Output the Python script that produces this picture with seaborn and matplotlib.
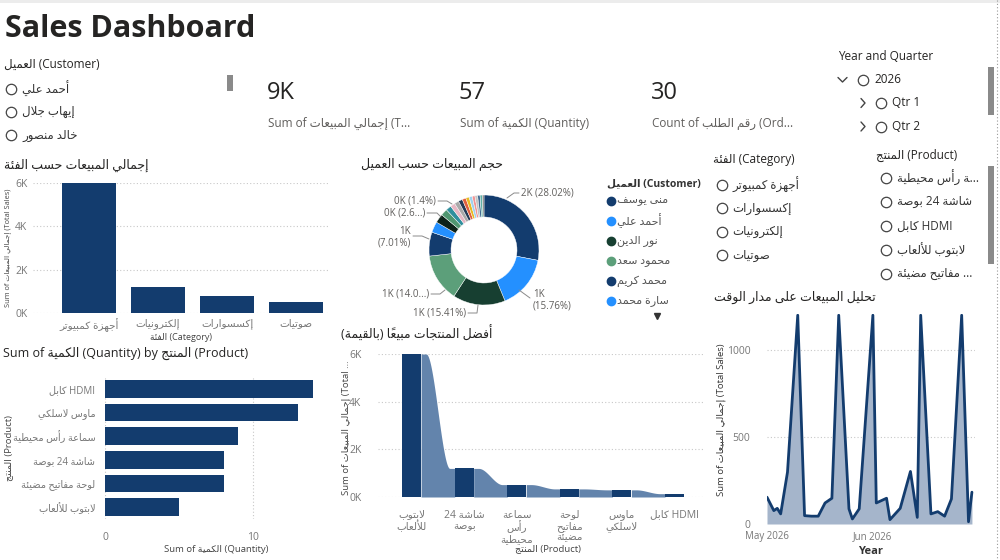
import re

import matplotlib.pyplot as plt
import numpy as np
import pandas as pd
import seaborn as sns
from matplotlib.lines import Line2D
from matplotlib.patches import Rectangle

# ---------------------------------------------------------------
# data
# ---------------------------------------------------------------
customer_slicer = ["أحمد علي", "إيهاب جلال", "خالد منصور"]
category_slicer = ["أجهزة كمبيوتر", "إكسسوارات", "إلكترونيات", "صوتيات"]
product_slicer = ["سماعة رأس محيطية", "شاشة 24 بوصة", "كابل HDMI", "لابتوب للألعاب", "لوحة مفاتيح مضيئة"]

category_names = ["أجهزة كمبيوتر", "إلكترونيات", "إكسسوارات", "صوتيات"]
category_sales = [6000, 1200, 780, 520]

customer_names = ["منى يوسف", "أحمد علي", "نور الدين", "محمود سعد", "محمد كريم", "سارة محمد",
                  "إيهاب جلال", "خالد منصور", "ليلى حسن", "عمر فاروق", "ياسمين عادل", "طارق سمير",
                  "هدى إبراهيم", "سامي نبيل", "رنا خليل", "كريم عادل", "دينا فؤاد", "وليد حسين",
                  "نادية صبري", "يوسف عماد"]
customer_sales = [2395.7, 1347.5, 1317.6, 1200.4, 599.4, 273.6, 222.3, 171.0, 136.8, 119.7,
                  111.2, 102.6, 94.1, 85.5, 77.0, 68.4, 68.4, 59.9, 59.9, 39.0]

qty_products = ["كابل HDMI", "ماوس لاسلكي", "سماعة رأس محيطية", "شاشة 24 بوصة", "لوحة مفاتيح مضيئة", "لابتوب للألعاب"]
qty_values = [14, 13, 9, 8, 8, 5]

top_products = ["لابتوب للألعاب", "شاشة 24 بوصة", "سماعة رأس محيطية", "لوحة مفاتيح مضيئة", "ماوس لاسلكي", "كابل HDMI"]
top_ticks = ["لابتوب\nللألعاب", "شاشة 24\nبوصة", "سماعة\nرأس\nمحيطية", "لوحة\nمفاتيح\nمضيئة", "ماوس\nلاسلكي", "كابل HDMI"]
top_sales = [6000, 1200, 520, 340, 300, 140]

order_dates = ["2026-05-01", "2026-05-03", "2026-05-04", "2026-05-05", "2026-05-07", "2026-05-10",
               "2026-05-12", "2026-05-14", "2026-05-16", "2026-05-18", "2026-05-20", "2026-05-22",
               "2026-05-25", "2026-05-26", "2026-05-28", "2026-06-01", "2026-06-02", "2026-06-05",
               "2026-06-06", "2026-06-09", "2026-06-12", "2026-06-14", "2026-06-15", "2026-06-18",
               "2026-06-20", "2026-06-22", "2026-06-24", "2026-06-27", "2026-06-29", "2026-06-30"]
order_sales = [154, 77, 90, 58, 298, 1200, 48, 45, 45, 121, 148, 1200, 87, 29, 87,
               1200, 121, 148, 25, 90, 302, 38, 1200, 58, 71, 45, 144, 1200, 13, 183]

# ---------------------------------------------------------------
# arabic shaping (matplotlib has no shaping / bidi of its own)
# ---------------------------------------------------------------
_BASE = {
    "ء": (0xFE80, 0), "آ": (0xFE81, 1), "أ": (0xFE83, 1), "ؤ": (0xFE85, 1), "إ": (0xFE87, 1),
    "ئ": (0xFE89, 2), "ا": (0xFE8D, 1), "ب": (0xFE8F, 2), "ة": (0xFE93, 1), "ت": (0xFE95, 2),
    "ث": (0xFE99, 2), "ج": (0xFE9D, 2), "ح": (0xFEA1, 2), "خ": (0xFEA5, 2), "د": (0xFEA9, 1),
    "ذ": (0xFEAB, 1), "ر": (0xFEAD, 1), "ز": (0xFEAF, 1), "س": (0xFEB1, 2), "ش": (0xFEB5, 2),
    "ص": (0xFEB9, 2), "ض": (0xFEBD, 2), "ط": (0xFEC1, 2), "ظ": (0xFEC5, 2), "ع": (0xFEC9, 2),
    "غ": (0xFECD, 2), "ف": (0xFED1, 2), "ق": (0xFED5, 2), "ك": (0xFED9, 2), "ل": (0xFEDD, 2),
    "م": (0xFEE1, 2), "ن": (0xFEE5, 2), "ه": (0xFEE9, 2), "و": (0xFEED, 1), "ى": (0xFEEF, 1),
    "ي": (0xFEF1, 2),
}
_LAMALEF = {"آ": 0xFEF5, "أ": 0xFEF7, "إ": 0xFEF9, "ا": 0xFEFB}
_MARKS = set(chr(c) for c in range(0x064B, 0x0653))
_AR = "\u0600-\u06FF\uFE70-\uFEFF"


def shape(s):
    n = len(s)

    def near(j, step):
        while 0 <= j < n and s[j] in _MARKS:
            j += step
        return s[j] if 0 <= j < n else None

    out, i = [], 0
    while i < n:
        c = s[i]
        if c not in _BASE:
            out.append(c)
            i += 1
            continue
        prev, nxt = near(i - 1, -1), near(i + 1, 1)
        joins_prev = prev in _BASE and _BASE[prev][1] == 2 and _BASE[c][1] > 0
        if c == "ل" and nxt in _LAMALEF:
            out.append(chr(_LAMALEF[nxt] + (1 if joins_prev else 0)))
            j = i + 1
            while s[j] in _MARKS:
                out.append(s[j])
                j += 1
            i = j + 1
            continue
        joins_next = _BASE[c][1] == 2 and nxt in _BASE and _BASE[nxt][1] > 0
        base = _BASE[c][0]
        if joins_prev and joins_next:
            base += 3
        elif joins_prev:
            base += 1
        elif joins_next:
            base += 2
        out.append(chr(base))
        i += 1
    return "".join(out)


def _rev(s):
    toks = re.findall(r"[0-9][0-9.,%]*|.[\u064B-\u0652]*", s)
    mirror = {"(": ")", ")": "("}
    return "".join(mirror.get(t, t) for t in reversed(toks))


def ar(s):
    s = shape(s)
    if not re.search(f"[{_AR}]", s):
        return s
    if not re.search("[A-Za-z]", s):
        return _rev(s)
    return re.sub(f"[{_AR}](?:[{_AR}0-9 ]*[{_AR}0-9])?", lambda m: _rev(m.group(0)), s)


# ---------------------------------------------------------------
# figure helpers (pixel positions, origin top-left)
# ---------------------------------------------------------------
sns.set_theme(style="white")
plt.rcParams["font.family"] = ["Open Sans", "DejaVu Sans"]

NAVY = "#133c6e"
BLUE = "#2490ff"
DKGREEN = "#173f31"
GREEN = "#5c9f7a"
RIBBON = "#6384ac"
AREA = "#a5b5cb"
TXT = "#252423"
GRAY = "#605e5c"
TICK = "#777777"
GRID = "#c8c8c8"

W, H = 1000, 560
fig = plt.figure(figsize=(10, 5.6), dpi=100)


def fx(x):
    return x / W


def fy(y):
    return 1 - y / H


def axes_px(l, t, r, b):
    return fig.add_axes([fx(l), fy(b), (r - l) / W, (b - t) / H])


def text(x, y, s, size=9, color=TXT, **kw):
    kw.setdefault("va", "center")
    fig.text(fx(x), fy(y), s, fontsize=size, color=color, **kw)


def line(xs, ys, color="#555555", lw=0.8, **kw):
    fig.add_artist(Line2D([fx(x) for x in xs], [fy(y) for y in ys], color=color, lw=lw,
                          transform=fig.transFigure, **kw))


def circle(x, y):
    line([x], [y], marker="o", ms=7.5, mfc="none", mec="#444444", mew=0.9, lw=0)


def rect(x, y, w, h, color):
    fig.add_artist(Rectangle((fx(x), fy(y + h)), w / W, h / H, color=color, lw=0,
                             transform=fig.transFigure))


def style(ax, grid="y"):
    sns.despine(ax=ax, left=True, bottom=True)
    ax.set_axisbelow(True)
    ax.grid(False)
    getattr(ax, grid + "axis").grid(True, color=GRID, linestyle=(0, (1, 2)), lw=0.8)
    ax.tick_params(length=0, labelsize=7.5, labelcolor=TICK)
    ax.set_xlabel("")
    ax.set_ylabel("")


# ---------------------------------------------------------------
# header, cards and slicers
# ---------------------------------------------------------------
rect(0, 0, 1000, 3, "#ececec")
text(5, 37, "Sales Dashboard", size=22, weight="bold", va="baseline")

text(4, 64, ar("العميل (Customer)"), size=8.5)
for k, name in enumerate(customer_slicer):
    circle(11, 89 + 23 * k)
    text(22, 89 + 23 * k, ar(name), size=8.5, color="#333333")
rect(227, 75, 6, 16, "#8a8a8a")

kpis = [
    (f"{sum(order_sales) / 1000:.0f}K", ar("Sum of إجمالي المبيعات (T") + "..."),
    (f"{sum(qty_values)}", ar("Sum of الكمية (Quantity)")),
    (f"{len(order_sales)}", ar("Count of رقم الطلب (Ord") + "..."),
]
for k, (val, lab) in enumerate(kpis):
    text(267 + 192 * k, 93, val, size=17)
    text(268 + 192 * k, 123, lab, size=8.5, color=GRAY)

text(838, 56, "Year and Quarter", size=8.5)
line([838, 842.5, 847], [77.5, 82, 77.5], color="#444444", lw=1)
circle(863, 80)
text(874, 80, "2026", size=8.5)
for k, q in enumerate(["Qtr 1", "Qtr 2"]):
    yy = 103 + 23.5 * k
    line([861, 865, 861], [yy - 4.5, yy, yy + 4.5], color="#444444", lw=1)
    circle(881, yy)
    text(892, yy, q, size=8.5)
rect(988, 67, 6, 48, "#8a8a8a")
line([997, 997], [0, 560], color="#9a9a9a", lw=0.8, linestyle=(0, (1, 2)))

text(713, 160, ar("الفئة (Category)"), size=8.5)
for k, name in enumerate(category_slicer):
    circle(722, 185 + 23.4 * k)
    text(732, 185 + 23.4 * k, ar(name), size=8.5, color="#333333")

text(876, 155, ar("المنتج (Product)"), size=8.5)
prod_show = [ar(product_slicer[0])[:12] + "...", ar(product_slicer[1]), ar(product_slicer[2]),
             ar(product_slicer[3]), ar(product_slicer[4])[:13] + "..."]
for k, name in enumerate(prod_show):
    circle(886, 178 + 24 * k)
    text(897, 178 + 24 * k, name, size=8.5, color="#333333")
rect(988, 166, 6, 98, "#8a8a8a")

# ---------------------------------------------------------------
# sales by category
# ---------------------------------------------------------------
text(4, 165, ar("إجمالي المبيعات حسب الفئة"), size=9)
ax1 = axes_px(33, 183, 330, 313)
sns.barplot(x=[ar(c) for c in category_names], y=category_sales, color=NAVY, saturation=1,
            width=0.78, linewidth=0, ax=ax1)
ax1.set_xlim(-0.81, 3.49)
ax1.set_ylim(0, 6000)
ax1.set_yticks([0, 2000, 4000, 6000], ["0K", "2K", "4K", "6K"])
style(ax1)
ax1.tick_params(axis="y", pad=4)
ax1.tick_params(axis="x", pad=4)
text(8, 248, ar("Sum of إجمالي المبيعات (Total Sales)"), size=5.3, color="#444444",
     rotation=90, ha="center")
text(181, 338, ar("الفئة (Category)"), size=6.5, color="#444444", ha="center")

# ---------------------------------------------------------------
# donut: sales by customer
# ---------------------------------------------------------------
text(361, 164, ar("حجم المبيعات حسب العميل"), size=9)
cust_colors = [NAVY, BLUE, DKGREEN, GREEN, NAVY, BLUE, "#0d2219", "#4f9670", "#2f8f9d",
               "#e7b7c4", "#a9a9a9", "#243a55", "#e0603f", "#e8b923", "#9ed2ee", "#f29494",
               "#c4c4c4", "#41698f", "#5fb0a6", "#7a7a7a"]
ax2 = axes_px(429, 195, 539, 305)
ax2.pie(customer_sales, colors=cust_colors, startangle=90, counterclock=False, radius=1,
        wedgeprops=dict(width=0.4, edgecolor="white", lw=0.3))
ax2.set_xlim(-1, 1)
ax2.set_ylim(-1, 1)
ax2.set_aspect("equal")
ax2.axis("off")

pcts = np.array(customer_sales) / sum(customer_sales) * 100


def pct_s(p):
    return f"{p:.2f}".rstrip("0").rstrip(".")


donut_labels = [
    (0, [(507, 198), (514, 193), (519, 193)], 521, 193, "left", "one"),
    (1, [(519, 290), (530, 298)], 533, 300, "left", "two"),
    (2, [(478, 305), (477, 313), (468, 313)], 466, 313, "right", "one"),
    (3, [(445, 290), (440, 294), (431, 294)], 429, 294, "right", "trunc"),
    (4, [(429, 239), (422, 236), (413, 236)], 411, 237, "right", "two"),
    (6, [(441, 217), (437, 213), (427, 213)], 425, 213, "right", "trunc"),
    (9, [(452, 204), (447, 201), (438, 201)], 436, 201, "right", "one"),
]
for idx, pts, tx, ty, ha, mode in donut_labels:
    val = f"{customer_sales[idx] / 1000:.0f}K"
    p = pct_s(pcts[idx])
    if mode == "one":
        lab = f"{val} ({p}%)"
    elif mode == "two":
        lab = f"{val}\n({p}%)"
    else:
        lab = f"{val} ({p[:4]}...)"
    line([q[0] for q in pts], [q[1] for q in pts], color="#8a8a8a", lw=0.7)
    text(tx, ty, lab, size=7, color=GRAY, ha=ha, multialignment=ha, linespacing=1.1)

text(607, 184, ar("العميل (Customer)"), size=7.5, weight="bold", color="#333333")
for k in range(6):
    yy = 201 + 20 * k
    line([611], [yy], marker="o", ms=6, color=cust_colors[k], lw=0)
    text(617, yy, ar(customer_names[k]), size=8, color="#555555")
line([657], [316], marker="v", ms=4, color="#333333", lw=0)

# ---------------------------------------------------------------
# quantity by product
# ---------------------------------------------------------------
text(3, 353, ar("Sum of الكمية (Quantity) by المنتج (Product)"), size=9)
ax3 = axes_px(105, 377, 320, 519)
sns.barplot(x=qty_values, y=[ar(p) for p in qty_products], orient="h", color=NAVY,
            saturation=1, width=0.76, linewidth=0, ax=ax3)
ax3.set_xlim(0, 14.5)
ax3.set_ylim(5.5, -0.5)
ax3.set_xticks([0, 10])
style(ax3, grid="x")
ax3.tick_params(axis="y", pad=7, labelsize=7)
ax3.tick_params(axis="x", pad=9)
text(9, 448, ar("المنتج (Product)"), size=6.8, color="#444444", rotation=90, ha="center")
text(216, 549, ar("Sum of الكمية (Quantity)"), size=6.8, color="#444444", ha="center")

# ---------------------------------------------------------------
# ribbon: best selling products by value
# ---------------------------------------------------------------
text(341, 334, ar("أفضل المنتجات مبيعاً (بالقيمة)"), size=9)
ax4 = axes_px(378, 354, 705, 497)
sns.barplot(x=top_products, y=top_sales, color=NAVY, saturation=1, width=0.36, linewidth=0, ax=ax4)
for patch in ax4.patches:
    patch.set_zorder(3)
half = 0.18
for i in range(len(top_sales) - 1):
    x0, x1 = i + half, i + 1 - half
    xs = np.linspace(x0, x1, 80)
    t = np.clip(((xs - x0) / (x1 - x0) - 0.15) / 0.7, 0, 1)
    ys = top_sales[i] + (top_sales[i + 1] - top_sales[i]) * t * t * (3 - 2 * t)
    ax4.fill_between(xs, 0, ys, color=RIBBON, lw=0, zorder=2)
ax4.set_xlim(-0.64, 5.58)
ax4.set_ylim(0, 6000)
ax4.set_yticks([0, 2000, 4000, 6000], ["0K", "2K", "4K", "6K"])
ax4.set_xticks(range(len(top_ticks)),
               ["\n".join(ar(s) for s in lab.split("\n")) for lab in top_ticks])
style(ax4)
ax4.tick_params(axis="y", pad=12)
ax4.tick_params(axis="x", pad=9)
for lab in ax4.get_xticklabels():
    lab.set_linespacing(1.05)
text(346, 428, ar("Sum of إجمالي المبيعات (Total") + " ...", size=6.8, color="#444444",
     rotation=90, ha="center")
text(548, 549, ar("المنتج (Product)"), size=6.8, color="#444444", ha="center")

# ---------------------------------------------------------------
# sales over time
# ---------------------------------------------------------------
text(714, 297, ar("تحليل المبيعات على مدار الوقت"), size=9)
ax5 = axes_px(767, 314, 975, 524)
dates = pd.to_datetime(order_dates)
ax5.fill_between(dates, order_sales, 0, color=AREA, lw=0)
sns.lineplot(x=dates, y=order_sales, color=NAVY, lw=2, ax=ax5)
start = pd.Timestamp("2026-05-01")
ax5.set_xlim(start, start + pd.Timedelta(days=60.9))
ax5.set_ylim(0, 1207)
ax5.set_yticks([0, 500, 1000])
ax5.set_xticks([start, pd.Timestamp("2026-06-01")], ["May 2026", "Jun 2026"])
style(ax5)
ax5.tick_params(axis="y", pad=12)
ax5.tick_params(axis="x", pad=5, labelsize=7)
text(721, 420, ar("Sum of إجمالي المبيعات (Total Sales)"), size=6.8, color="#333333",
     rotation=90, ha="center")
text(871, 552, "Year", size=8, color="#333333", ha="center", weight="bold")

fig.savefig("out.png", dpi=100)
